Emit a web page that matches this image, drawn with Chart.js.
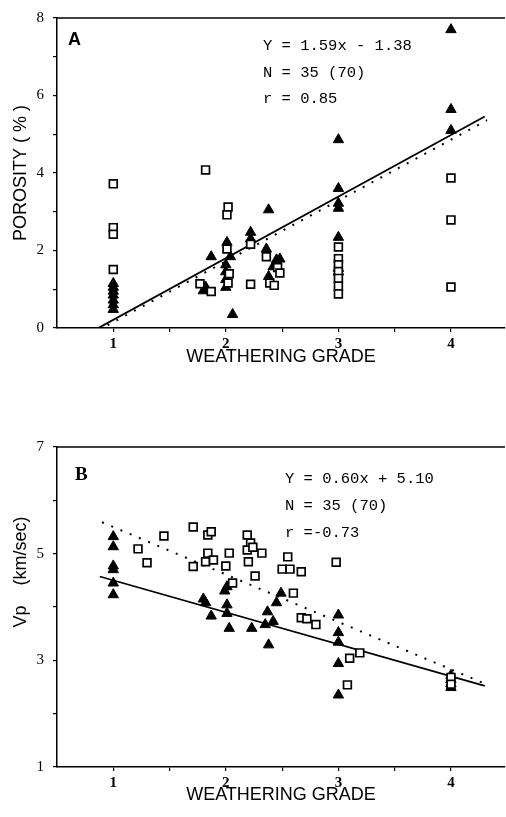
<!DOCTYPE html>
<html>
<head>
<meta charset="utf-8">
<script src="https://cdn.jsdelivr.net/npm/chart.js@4.4.1/dist/chart.umd.min.js"></script>
<style>
  html, body { margin: 0; padding: 0; background: #fff; }
  body { width: 506px; height: 817px; position: relative; overflow: hidden; }
  canvas { position: absolute; left: 0; }
  #chartA { top: 0; }
  #chartB { top: 395px; }
</style>
</head>
<body>
<canvas id="chartA" width="506" height="390"></canvas>
<canvas id="chartB" width="506" height="422"></canvas>
<script>
// shared x axis
const gradeTicks = [1, 1.5, 2, 2.5, 3, 3.5, 4];
const gradeLabels = ['1', '2', '3', '4'];

// panel A - porosity
const porTicks = [0, 1, 2, 3, 4, 5, 6, 7, 8];
const porLabels = ['0', '2', '4', '6', '8'];
const porTriX = [1, 1, 1, 1, 1, 1, 1, 1.87, 1.80, 1.82, 2.01, 2.04, 2.0, 2.0, 2.0, 2.0, 2.06,
  2.22, 2.22, 2.38, 2.36, 2.38, 2.45, 2.42, 2.48, 3, 3, 3, 3, 3, 3, 3, 4, 4, 4];
const porTriY = [1.15, 1.05, 0.95, 0.85, 0.72, 0.6, 0.48, 1.84, 0.96, 1.06, 2.21, 1.84, 1.63, 1.45, 1.25, 1.05, 0.35,
  2.47, 2.3, 3.05, 2.04, 1.33, 1.76, 1.58, 1.78, 4.86, 3.6, 3.22, 3.09, 2.34, 1.54, 1.45, 7.7, 5.64, 5.1];
const porSqX = [1, 1, 1, 1, 1.82, 1.77, 1.87, 2.02, 2.01, 2.01, 2.02, 2.03, 2.22, 2.22,
  2.36, 2.39, 2.43, 2.46, 2.48, 3, 3, 3, 3, 3, 3, 3, 4, 4, 4];
const porSqY = [3.72, 2.59, 2.42, 1.51, 4.08, 1.14, 0.94, 3.12, 2.92, 2.04, 1.16, 1.4, 2.16, 1.13,
  1.84, 1.16, 1.1, 1.56, 1.42, 2.09, 1.79, 1.63, 1.46, 1.28, 1.08, 0.88, 3.87, 2.79, 1.06];
const porFitSolid = [1.59, -1.38];
const porFitSolidRange = [0.87, 4.3];
const porFitDot = [1.57, -1.42];
const porFitDotRange = [0.95, 4.32];
const porNotes = ['Y = 1.59x - 1.38', 'N = 35 (70)', 'r = 0.85'];

// panel B - Vp
const vpTicks = [1, 2, 3, 4, 5, 6, 7];
const vpLabels = ['1', '3', '5', '7'];
const vpTriX = [1, 1, 1, 1, 1, 1, 1.8, 1.82, 1.87, 2.01, 2.01, 2.03, 2.01, 1.99,
  2.23, 2.35, 2.38, 2.37, 2.42, 2.45, 2.49, 3, 3, 3, 3, 3, 4, 4, 4, 4];
const vpTriY = [5.32, 5.13, 4.77, 4.7, 4.45, 4.23, 4.15, 4.08, 3.83, 4.04, 3.88, 3.6, 4.38, 4.3,
  3.6, 3.67, 3.29, 3.91, 3.73, 4.08, 4.26, 3.85, 3.52, 3.34, 2.94, 2.35, 2.72, 2.64, 2.56, 2.49];
const vpSqX = [1.22, 1.30, 1.45, 1.71, 1.84, 1.87, 1.84, 1.82, 1.89, 1.71, 2.03, 2.0, 2.06,
  2.19, 2.22, 2.19, 2.24, 2.32, 2.2, 2.26, 2.55, 2.5, 2.57, 2.67, 2.98, 2.6, 2.67, 2.72, 2.8,
  3.1, 3.19, 3.08, 4, 4];
const vpSqY = [5.09, 4.83, 5.33, 5.5, 5.35, 5.41, 5.01, 4.85, 4.88, 4.76, 5.01, 4.77, 4.45,
  5.35, 5.2, 5.07, 5.12, 5.01, 4.85, 4.58, 4.94, 4.71, 4.71, 4.66, 4.84, 4.26, 3.8, 3.78, 3.67,
  3.04, 3.14, 2.54, 2.68, 2.55];
const vpFitSolid = [-0.60, 5.10];
const vpFitSolidRange = [0.88, 4.3];
const vpFitDot = [-0.89, 6.39];
const vpFitDotRange = [0.9, 4.3];
const vpNotes = ['Y = 0.60x + 5.10', 'N = 35 (70)', 'r =-0.73'];

function toPoints(xs, ys) {
  return xs.map(function (x, i) { return { x: x, y: ys[i] }; });
}

function fitLine(coef, range) {
  return range.map(function (x) { return { x: x, y: coef[0] * x + coef[1] }; });
}

function notesPlugin(p) {
  return {
    id: 'notes',
    afterDraw: function (chart) {
      var ctx = chart.ctx, a = chart.chartArea;
      ctx.save();
      ctx.strokeStyle = '#000';
      ctx.lineWidth = 1.5;
      ctx.beginPath();
      ctx.moveTo(a.left, a.top);
      ctx.lineTo(a.right, a.top);
      ctx.stroke();
      ctx.fillStyle = '#000';
      ctx.textBaseline = 'alphabetic';
      ctx.font = p.letterFont;
      ctx.fillText(p.letter, p.letterX, p.letterY);
      ctx.font = '15.5px "Liberation Mono"';
      p.lines.forEach(function (t, i) { ctx.fillText(t, p.x, p.y + i * p.step); });
      ctx.restore();
    }
  };
}

function makeChart(id, c) {
  var ctx = document.getElementById(id).getContext('2d');
  return new Chart(ctx, {
    type: 'scatter',
    data: {
      datasets: [
        {
          data: toPoints(c.sqX, c.sqY),
          pointStyle: 'rect',
          pointRadius: 5.5,
          borderColor: '#000',
          backgroundColor: '#fff',
          borderWidth: 1.7,
          order: 1
        },
        {
          data: toPoints(c.triX, c.triY),
          pointStyle: 'triangle',
          pointRadius: 6,
          borderColor: '#000',
          backgroundColor: '#000',
          borderWidth: 1,
          order: 2
        },
        {
          data: fitLine(c.fitSolid, c.fitSolidRange),
          showLine: true,
          pointRadius: 0,
          borderColor: '#000',
          borderWidth: 1.8,
          order: 3
        },
        {
          data: fitLine(c.fitDot, c.fitDotRange),
          showLine: true,
          pointRadius: 0,
          borderColor: '#000',
          borderWidth: 2,
          borderDash: [2, 8],
          order: 4
        }
      ]
    },
    options: {
      responsive: false,
      animation: false,
      layout: { autoPadding: false, padding: { top: c.padTop, right: 1, left: 0, bottom: 0 } },
      plugins: { legend: { display: false }, tooltip: { enabled: false } },
      scales: {
        x: {
          type: 'linear',
          min: 0.5,
          max: 4.48,
          afterBuildTicks: function (s) { s.ticks = gradeTicks.map(function (v) { return { value: v }; }); },
          afterFit: function (s) { s.height = c.xHeight; },
          ticks: {
            autoSkip: false,
            maxRotation: 0,
            padding: 3,
            color: '#000',
            font: { family: '"Liberation Serif"', size: 15, weight: 'bold' },
            callback: function (v) { return gradeLabels.indexOf(String(v)) >= 0 ? String(v) : ''; }
          },
          grid: { drawOnChartArea: false, drawTicks: true, tickLength: 4, color: '#000', lineWidth: 1.2 },
          border: { display: true, color: '#000', width: 1.5 },
          title: {
            display: true,
            text: 'WEATHERING GRADE',
            color: '#000',
            font: { family: '"Liberation Sans"', size: 18 },
            padding: { top: 0, bottom: c.xTitlePad }
          }
        },
        y: {
          type: 'linear',
          min: c.yMin,
          max: c.yMax,
          afterBuildTicks: function (s) { s.ticks = c.yTicks.map(function (v) { return { value: v }; }); },
          afterFit: function (s) { s.width = 57; },
          ticks: {
            autoSkip: false,
            padding: 9,
            color: '#000',
            font: { family: '"Liberation Serif"', size: 15 },
            callback: function (v) { return c.yLabels.indexOf(String(v)) >= 0 ? String(v) : ''; }
          },
          grid: { drawOnChartArea: false, drawTicks: true, tickLength: 4, color: '#000', lineWidth: 1.2 },
          border: { display: true, color: '#000', width: 1.5 },
          title: {
            display: true,
            text: c.yTitle,
            color: '#000',
            font: { family: '"Liberation Sans"', size: 18 },
            padding: { top: 10, bottom: 0 }
          }
        }
      }
    },
    plugins: [notesPlugin(c.notes)]
  });
}

makeChart('chartA', {
  sqX: porSqX, sqY: porSqY, triX: porTriX, triY: porTriY,
  fitSolid: porFitSolid, fitSolidRange: porFitSolidRange,
  fitDot: porFitDot, fitDotRange: porFitDotRange,
  yMin: 0, yMax: 8, yTicks: porTicks, yLabels: porLabels,
  yTitle: 'POROSITY ( % )',
  padTop: 10, xHeight: 62, xTitlePad: 22,
  notes: { lines: porNotes, x: 263, y: 50, step: 26.5, letter: 'A',
    letterFont: 'bold 18px "Liberation Sans"', letterX: 68, letterY: 45 }
});

makeChart('chartB', {
  sqX: vpSqX, sqY: vpSqY, triX: vpTriX, triY: vpTriY,
  fitSolid: vpFitSolid, fitSolidRange: vpFitSolidRange,
  fitDot: vpFitDot, fitDotRange: vpFitDotRange,
  yMin: 1, yMax: 7, yTicks: vpTicks, yLabels: vpLabels,
  yTitle: '\u00a0\u00a0\u00a0\u00a0\u00a0\u00a0\u00a0\u00a0\u00a0\u00a0\u00a0\u00a0\u00a0\u00a0Vp\u00a0\u00a0\u00a0\u00a0(km/sec)',
  padTop: 52, xHeight: 50, xTitlePad: 11,
  notes: { lines: vpNotes, x: 285, y: 88, step: 27, letter: 'B',
    letterFont: 'bold 19px "Liberation Serif"', letterX: 75, letterY: 85 }
});
</script>
</body>
</html>
